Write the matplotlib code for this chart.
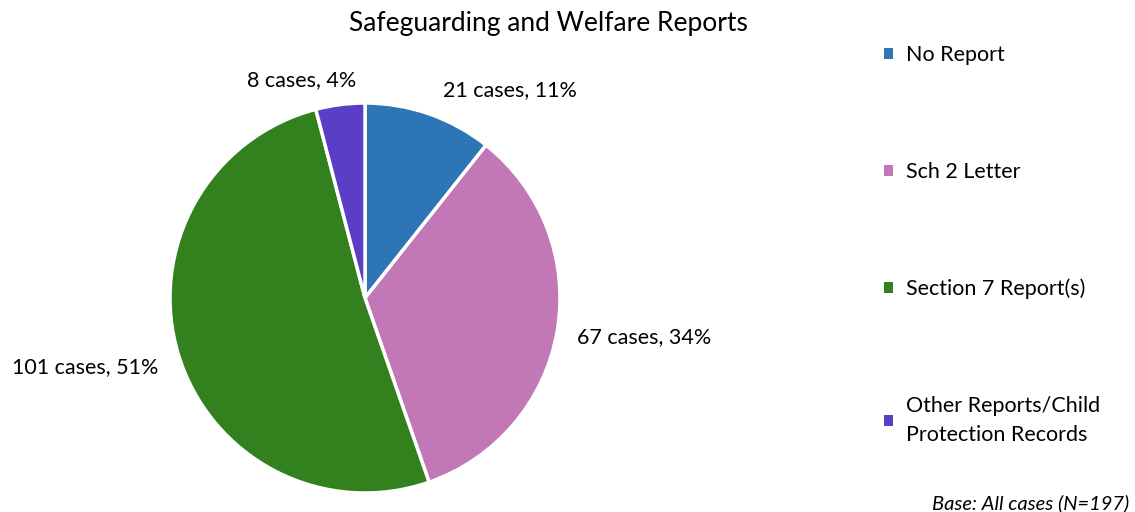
import matplotlib.pyplot as plt
from matplotlib.patches import Patch

plt.rcParams['font.family'] = ['Lato', 'DejaVu Sans']

categories = ["No Report", "Sch 2 Letter", "Section 7 Report(s)",
              "Other Reports/Child\nProtection Records"]
cases = [21, 67, 101, 8]
percents = [11, 34, 51, 4]
colors = ["#2E75B6", "#C277B7", "#33801E", "#5A3EC6"]

# label positions (pie radius units) relative to the centre
label_pos = [(0.744, 1.067), (1.431, -0.20), (-1.436, -0.354), (-0.323, 1.118)]

fig = plt.figure(figsize=(11.35, 5.12), dpi=100)
ax = fig.add_axes([0.1498, 0.0371, 0.3436, 0.7617])
wedges, _ = ax.pie(cases, colors=colors, startangle=90, counterclock=False,
                   wedgeprops=dict(edgecolor="white", linewidth=2.5))
ax.set_xlim(-1, 1)
ax.set_ylim(-1, 1)
ax.set_aspect("equal")

for n, p, (x, y) in zip(cases, percents, label_pos):
    ax.text(x, y, f"{n} cases, {p}%", ha="center", va="center", fontsize=15.5)

fig.text(0.483, 0.955, "Safeguarding and Welfare Reports", ha="center", va="center",
         fontsize=19)

handles = [Patch(facecolor=c, edgecolor="none") for c in colors]
leg = fig.legend(handles, categories, loc="upper left", bbox_to_anchor=(0.762, 0.95),
                 frameon=False, fontsize=15.5, labelspacing=4.5,
                 handlelength=0.4, handleheight=0.4, handletextpad=0.6)
for t in leg.get_texts():
    t.set_linespacing(1.55)

fig.text(0.995, 0.018, "Base: All cases (N=197)", ha="right", va="center",
         fontsize=14.5, style="italic")

fig.savefig("out.png", dpi=100)
